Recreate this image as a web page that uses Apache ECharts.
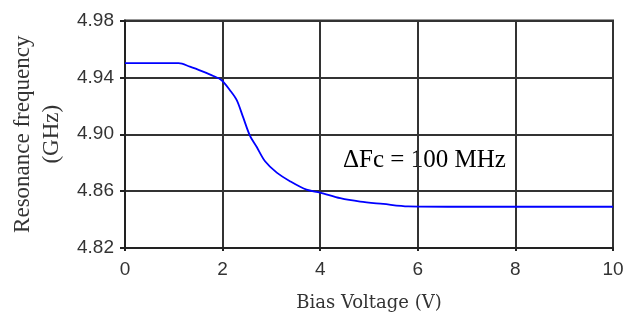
<!DOCTYPE html>
<html>
<head>
<meta charset="utf-8">
<script src="https://cdn.jsdelivr.net/npm/echarts@6/dist/echarts.min.js"></script>
<style>html,body{margin:0;padding:0;background:#fff;}#c{width:625px;height:322px;}</style>
</head>
<body>
<div id="c"></div>
<script>
var voltage = [0, 0.5, 1.1, 1.33, 1.6, 1.81, 1.98, 2.15, 2.29, 2.42, 2.56, 2.70, 2.87, 3.11, 3.38, 3.72, 4.0, 4.41, 4.82, 5.29, 5.8, 7, 8, 9, 10];
var frequency = [4.950, 4.950, 4.950, 4.9475, 4.944, 4.941, 4.938, 4.931, 4.924, 4.912, 4.899, 4.891, 4.881, 4.873, 4.867, 4.861, 4.859, 4.855, 4.8526, 4.851, 4.8493, 4.849, 4.849, 4.849, 4.849];
var xTicks = [0, 2, 4, 6, 8, 10];
var yTicks = ['4.82', '4.86', '4.90', '4.94', '4.98'];
var annotation = 'ΔFc = 100 MHz';
var xTitle = 'Bias Voltage (V)';
var yTitle = 'Resonance frequency\n(GHz)';

var chart = echarts.init(document.getElementById('c'), null, {renderer: 'canvas'});
var pts = voltage.map(function (v, i) { return [v, frequency[i]]; });
chart.setOption({
  animation: false,
  backgroundColor: '#fff',
  grid: {left: 125, right: 12, top: 20.5, bottom: 74, containLabel: false, outerBoundsMode: 'none',
    show: true, borderColor: '#333', borderWidth: 2},
  xAxis: {
    type: 'value', min: 0, max: 10, interval: 2,
    name: xTitle, nameLocation: 'middle', nameGap: 46,
    nameTextStyle: {fontFamily: 'DejaVu Serif', fontSize: 18, color: '#333'},
    axisLine: {lineStyle: {color: '#222', width: 2}},
    axisTick: {show: true, length: 3, lineStyle: {color: '#222', width: 2}},
    axisLabel: {fontFamily: 'Liberation Sans', fontSize: 19, color: '#333', margin: 12},
    splitLine: {show: true, lineStyle: {color: '#333', width: 2}}
  },
  yAxis: {
    type: 'value', min: 4.82, max: 4.98, interval: 0.04,
    name: yTitle, nameLocation: 'middle', nameGap: 55, nameRotate: 90,
    nameTextStyle: {fontFamily: 'Liberation Serif', fontSize: 23, color: '#333', lineHeight: 29},
    axisLine: {lineStyle: {color: '#222', width: 2}},
    axisTick: {show: true, length: 5, lineStyle: {color: '#222', width: 2}},
    axisLabel: {fontFamily: 'Liberation Sans', fontSize: 19, color: '#333', margin: 11,
      formatter: function (v) { return v.toFixed(2); }},
    splitLine: {show: true, lineStyle: {color: '#333', width: 2}}
  },
  graphic: [{
    type: 'text', left: 343, top: 148,
    style: {text: annotation, fontFamily: 'Liberation Serif', fontSize: 25, fill: '#000'}
  }],
  series: [{
    type: 'line', data: pts, smooth: 0.3, symbol: 'none',
    lineStyle: {color: '#0000ff', width: 1.8}
  }]
});
</script>
</body>
</html>
